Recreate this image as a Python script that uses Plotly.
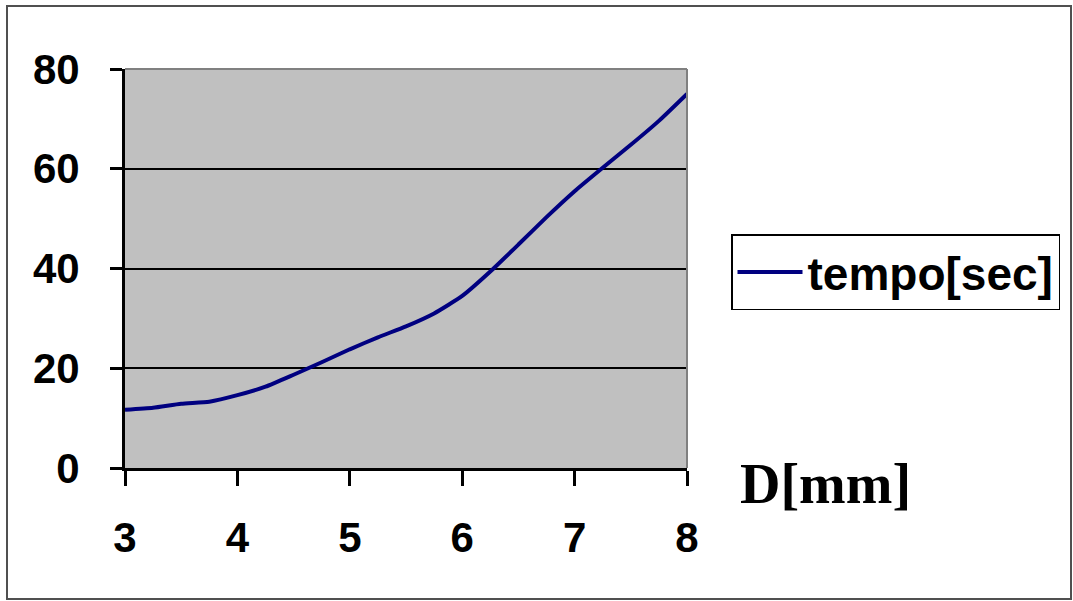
import plotly.graph_objects as go

# Data
diameter_mm = [3.0, 3.25, 3.5, 3.75, 4.0, 4.25, 4.5, 4.75, 5.0, 5.25, 5.5,
               5.75, 6.0, 6.25, 6.5, 6.75, 7.0, 7.25, 7.5, 7.75, 8.0]
tempo_sec = [11.7, 12.1, 12.9, 13.3, 14.6, 16.3, 18.7, 21.2, 23.8, 26.2, 28.4,
             31.0, 34.5, 39.4, 44.8, 50.3, 55.5, 60.2, 64.8, 69.6, 75.0]
x_ticks = [3, 4, 5, 6, 7, 8]
y_ticks = [0, 20, 40, 60, 80]
series_name = "tempo[sec]"
x_title = "D[mm]"

W, H = 1073, 601
L, R, T, B = 125, 386, 69, 133
pw, ph = W - L - R, H - T - B


def px2paper_x(px):
    return (px - L) / pw


def px2paper_y(py):
    return (H - B - py) / ph


fig = go.Figure()
fig.add_trace(go.Scatter(
    x=diameter_mm, y=tempo_sec, mode="lines", name=series_name,
    line=dict(color="#000080", width=4, shape="spline", smoothing=0.5),
))

tick_font = dict(family="Liberation Sans, Arial, sans-serif", size=42,
                 color="black", weight="bold")

fig.update_layout(
    width=W, height=H,
    margin=dict(l=L, r=R, t=T, b=B, pad=0),
    paper_bgcolor="white",
    plot_bgcolor="#C0C0C0",
    showlegend=True,
    legend=dict(
        x=px2paper_x(731), y=px2paper_y(234), xanchor="left", yanchor="top",
        bgcolor="white", bordercolor="black", borderwidth=1.5,
        font=dict(family="Liberation Sans, Arial, sans-serif", size=46,
                  color="black", weight="bold"),
        itemwidth=65,
    ),
    xaxis=dict(
        range=[3, 8], tickvals=x_ticks, ticktext=[str(v) for v in x_ticks],
        showgrid=False, zeroline=False,
        showline=True, linecolor="black", linewidth=3,
        ticks="outside", ticklen=15, tickwidth=3, tickcolor="black",
        tickfont=tick_font, ticklabelstandoff=16,
        fixedrange=True,
    ),
    yaxis=dict(
        range=[0, 80], tickvals=y_ticks, ticktext=[str(v) for v in y_ticks],
        showgrid=True, gridcolor="black", gridwidth=1.5, zeroline=False,
        showline=True, linecolor="black", linewidth=3,
        ticks="outside", ticklen=12, tickwidth=3, tickcolor="black",
        tickfont=tick_font, ticklabelstandoff=22,
        fixedrange=True,
    ),
    annotations=[dict(
        text="<b>" + x_title + "</b>", xref="paper", yref="paper",
        x=px2paper_x(825), y=px2paper_y(484), xanchor="center", yanchor="middle",
        showarrow=False,
        font=dict(family="Liberation Serif, Times New Roman, serif", size=56,
                  color="black"),
    )],
    shapes=[
        # gray top/right border of plot area
        dict(type="line", xref="paper", yref="paper", x0=0, x1=1, y0=1, y1=1,
             line=dict(color="#808080", width=2), layer="above"),
        dict(type="line", xref="paper", yref="paper", x0=1, x1=1, y0=0, y1=1,
             line=dict(color="#808080", width=2), layer="above"),
        # outer chart frame
        dict(type="rect", xref="paper", yref="paper",
             x0=px2paper_x(7), x1=px2paper_x(1071),
             y0=px2paper_y(599), y1=px2paper_y(6),
             line=dict(color="#505050", width=2), layer="below"),
    ],
)

fig.write_html("out.html")
